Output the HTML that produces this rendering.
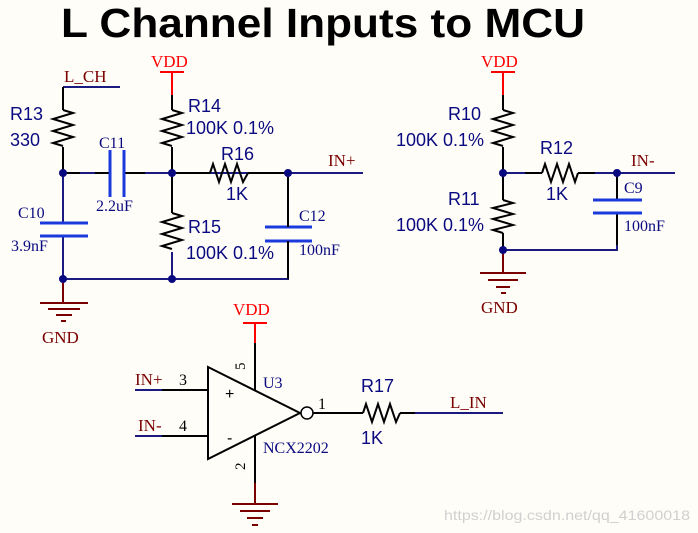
<!DOCTYPE html>
<html><head><meta charset="utf-8"><style>
body{margin:0;background:#fffdf8;}
svg{display:block}
.t{font-family:"Liberation Sans",sans-serif;fill:#0a0a80;font-size:18px}
.s{font-family:"Liberation Serif",serif;fill:#0a0a80;font-size:16px}
.r{font-family:"Liberation Serif",serif;fill:#7a0000;font-size:17px}
.v{font-family:"Liberation Serif",serif;fill:#ff0000;font-size:17px}
</style></head><body>
<svg width="698" height="533" viewBox="0 0 698 533" xmlns="http://www.w3.org/2000/svg">
<rect width="698" height="533" fill="#fffdf8"/>
<text x="61" y="37" font-family="Liberation Sans,sans-serif" font-weight="bold" font-size="41" fill="#000" textLength="524" lengthAdjust="spacingAndGlyphs">L Channel Inputs to MCU</text>
<g fill="none" stroke-width="2">
<path d="M63 87H120 M63 173H110 M124 173H288 M288 173H363 M63 279H288V255 M63 173V223 M63 236V279 M172 252V279 M288 173V227" stroke="#1a1a80"/>
<path d="M63 87V110 M63 147V173 M172 95V110 M172 147V213 M172 173H210 M248 173H288" stroke="#000"/>
<path d="M63 173H80 M95 173H110 M124 173H145" stroke="#000"/>
<path d="M63 110l10 3l-20 6l20 6l-20 6l20 6l-20 6l10 3" stroke="#000"/>
<path d="M172 110l10 3l-20 6l20 6l-20 6l20 6l-20 6l10 3" stroke="#000"/>
<path d="M172 213l10 3l-20 6l20 6l-20 6l20 6l-20 6l10 3" stroke="#000"/>
<path d="M210 173l3 -9l6 18l6 -18l6 18l6 -18l6 18l5 -9" stroke="#000"/>
<path d="M110 150V197 M124 150V197 M40 223H88 M40 236H88 M265 227H312 M265 241H312" stroke="#1a3adc" stroke-width="3"/>
<path d="M288 173V227 M288 241V279" stroke="#000"/>
<path d="M160 72H184 M172 72V95" stroke="#f00"/>
<path d="M63 279V303 M40 303H88 M48 309H80 M56 315H72 M61 321H66" stroke="#7a0000"/>
<path d="M491 72H515 M503 72V95" stroke="#f00"/>
<path d="M503 95V110 M503 147V173 M503 173V200 M503 233V250 M503 173H542 M578 173H617 M617 173V200 M617 213V250" stroke="#000"/>
<path d="M503 173H525 M595 173H675 M503 250H617V240" stroke="#1a1a80"/>
<path d="M503 110l10 3l-20 6l20 6l-20 6l20 6l-20 6l10 3" stroke="#000"/>
<path d="M503 200l10 3l-20 5l20 6l-20 5l20 6l-20 5l10 3" stroke="#000"/>
<path d="M542 173l3 -9l6 18l6 -18l6 18l6 -18l6 18l3 -9" stroke="#000"/>
<path d="M617 173V200 M617 213V245" stroke="#000"/>
<path d="M593 200H642 M593 213H642" stroke="#1a3adc" stroke-width="3"/>
<path d="M503 250V273 M480 273H526 M488 280H518 M496 287H510 M501 293H506" stroke="#7a0000"/>
<path d="M208 367L300 413L208 459Z" stroke="#000"/>
<circle cx="307" cy="413" r="6" stroke="#000" fill="#fff" stroke-width="1.5"/>
<path d="M135 390H162 M135 436H162" stroke="#1a1a80"/>
<path d="M162 390H208 M162 436H208 M255 343V390 M255 436V483 M313 413H363 M400 413H415" stroke="#000"/>
<path d="M415 413H503" stroke="#1a1a80"/>
<path d="M363 413l3 -9l6 18l6 -18l6 18l6 -18l6 18l4 -9" stroke="#000"/>
<path d="M243 323H267 M255 323V343" stroke="#f00"/>
<path d="M255 483V504 M232 504H278 M240 511H270 M247 518H263 M252 525H258" stroke="#7a0000"/>
</g>
<g fill="#0a0a80">
<circle cx="63" cy="173" r="4"/><circle cx="172" cy="173" r="4"/><circle cx="288" cy="173" r="4"/>
<circle cx="63" cy="279" r="4"/><circle cx="172" cy="279" r="4"/>
<circle cx="503" cy="173" r="4"/><circle cx="617" cy="173" r="4"/><circle cx="503" cy="250" r="4"/>
</g>
<text class="r" x="64" y="82">L_CH</text>
<text class="v" x="151" y="67">VDD</text>
<text class="t" x="10" y="120">R13</text>
<text class="t" x="10" y="146">330</text>
<text class="t" x="188" y="112">R14</text>
<text class="t" x="186" y="134">100K 0.1%</text>
<text class="s" x="99" y="148">C11</text>
<text class="s" x="96" y="211">2.2uF</text>
<text class="t" x="221" y="160">R16</text>
<text class="t" x="226" y="200">1K</text>
<text class="r" x="328" y="166">IN+</text>
<text class="s" x="18" y="218">C10</text>
<text class="s" x="11" y="251">3.9nF</text>
<text class="t" x="188" y="233">R15</text>
<text class="t" x="186" y="259">100K 0.1%</text>
<text class="s" x="299" y="221">C12</text>
<text class="s" x="299" y="255">100nF</text>
<text class="r" x="42" y="343">GND</text>
<text class="v" x="481" y="67">VDD</text>
<text class="t" x="448" y="120">R10</text>
<text class="t" x="396" y="146">100K 0.1%</text>
<text class="t" x="540" y="154">R12</text>
<text class="t" x="546" y="200">1K</text>
<text class="r" x="631" y="166">IN-</text>
<text class="s" x="624" y="193">C9</text>
<text class="s" x="624" y="231">100nF</text>
<text class="t" x="448" y="205">R11</text>
<text class="t" x="396" y="231">100K 0.1%</text>
<text class="r" x="481" y="313">GND</text>
<text class="v" x="233" y="315">VDD</text>
<text class="r" x="135" y="385">IN+</text>
<text class="s" x="179" y="385" style="fill:#000">3</text>
<text class="r" x="138" y="431">IN-</text>
<text class="s" x="179" y="431" style="fill:#000">4</text>
<text x="225" y="399" font-family="Liberation Sans,sans-serif" font-size="16">+</text>
<text x="227" y="443" font-family="Liberation Sans,sans-serif" font-size="16">-</text>
<text class="s" x="263" y="388">U3</text>
<text class="s" x="263" y="453">NCX2202</text>
<text class="s" x="318" y="409" style="fill:#000">1</text>
<text x="0" y="0" font-family="Liberation Serif,serif" font-size="15" transform="translate(245,370) rotate(-90)">5</text>
<text x="0" y="0" font-family="Liberation Serif,serif" font-size="15" transform="translate(245,470) rotate(-90)">2</text>
<text class="t" x="361" y="392">R17</text>
<text class="t" x="361" y="444">1K</text>
<text class="r" x="450" y="408">L_IN</text>
<text x="444" y="520" font-family="Liberation Sans,sans-serif" font-size="14" fill="#d0d0d0" textLength="246" lengthAdjust="spacingAndGlyphs">https://blog.csdn.net/qq_41600018</text>
</svg>
</body></html>
